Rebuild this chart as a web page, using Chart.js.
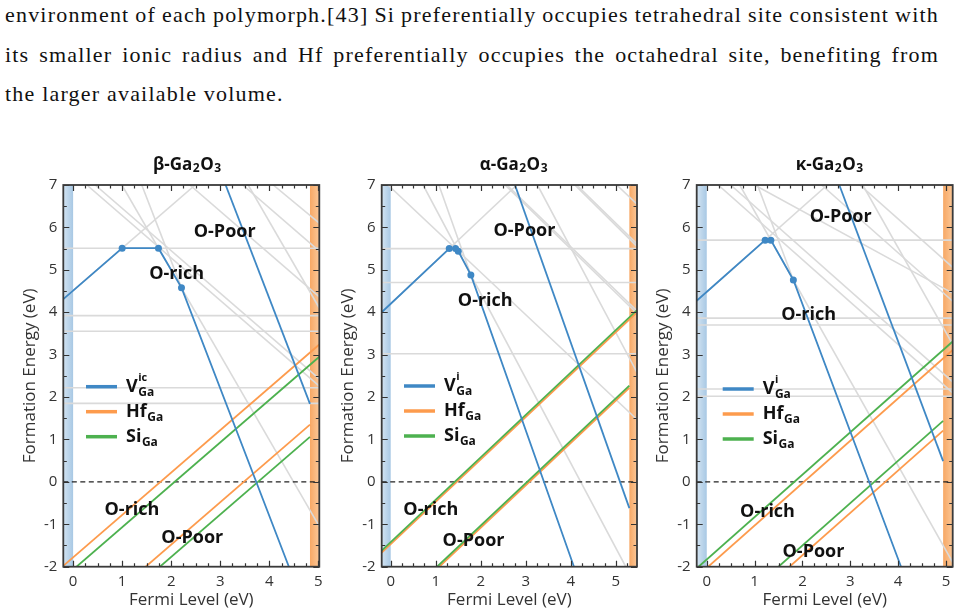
<!DOCTYPE html>
<html><head><meta charset="utf-8">
<script src="https://cdn.jsdelivr.net/npm/chart.js@4.4.1/dist/chart.umd.min.js"></script>
<style>
html,body{margin:0;padding:0;background:#fff;width:960px;height:615px;overflow:hidden;position:relative}
.para{position:absolute;left:5px;width:934px;top:-5px;font-family:"Liberation Serif","DejaVu Serif",serif;font-size:22px;letter-spacing:1.2px;line-height:39.5px;color:#111}
.para span{white-space:nowrap;display:inline-block}
canvas{position:absolute;top:140px}
</style></head><body>
<div class="para"><span class="j">environment of each polymorph.[43] Si preferentially occupies tetrahedral site consistent with</span><br><span class="j">its smaller ionic radius and Hf preferentially occupies the octahedral site, benefiting from</span><br><span>the larger available volume.</span></div>
<canvas id="c1" width="330" height="475" style="left:0px"></canvas>
<canvas id="c2" width="320" height="475" style="left:330px"></canvas>
<canvas id="c3" width="315" height="475" style="left:645px"></canvas>
<script>
// justify the first two text lines to the full width
document.querySelectorAll('.para .j').forEach(s => {
  const gaps = s.textContent.split(' ').length - 1;
  const extra = (934 - s.getBoundingClientRect().width) / gaps;
  s.style.wordSpacing = extra + 'px';
});

// ---------- data ----------
const xTickValues = [0,1,2,3,4,5];
const yTickValues = [-2,-1,0,1,2,3,4,5,6,7];

// beta-Ga2O3
const betaVRich = [[-0.2,4.31],[1.0,5.51],[1.74,5.51],[2.21,4.58],[4.40,-2]];
const betaVPoor = [[3.11,7],[4.83,1.84]];
const betaHfRich = [[-0.2,-1.98],[5.02,3.24]];
const betaHfPoor = [[1.48,-2],[4.83,1.35]];
const betaSiRich = [[0.07,-2],[5.02,2.95]];
const betaSiPoor = [[1.77,-2],[4.83,1.06]];
const betaGray = [[-0.2,4.31,2.49,7],[0.995,7,5.02,-1.05],[1.40,7,2.21,4.58],[3.57,7,5.02,4.10],
  [0.28,7,5.02,2.26],[0.45,7,5.02,2.43],[2.38,7,5.02,4.36],[3.46,7,5.02,5.44],[4.08,7,5.02,6.1]];
const betaGrayLevels = [5.51,3.92,3.55,2.22,1.85];
const betaLabels = [[3.09,5.90,'O-Poor'],[2.11,4.90,'O-rich'],[1.20,-0.65,'O-rich'],[2.43,-1.32,'O-Poor']];

// alpha-Ga2O3
const alphaVRich = [[-0.2,4.0],[1.30,5.5],[1.44,5.5],[1.50,5.44],[1.78,4.88],[4.07,-2]];
const alphaVPoor = [[2.76,7],[5.30,-0.62]];
const alphaHfRich = [[-0.2,-1.67],[5.47,4.0]];
const alphaHfPoor = [[1.08,-2],[5.30,2.22]];
const alphaSiRich = [[-0.2,-1.62],[5.47,4.05]];
const alphaSiPoor = [[1.03,-2],[5.30,2.27]];
const alphaGray = [[-0.2,4.0,2.8,7],[-0.06,7,5.47,1.47],[0.72,7,5.22,-2],[1.07,7,1.78,4.88],
  [3.26,7,5.47,2.58],[5.02,7,5.47,6.55],[2.54,7,5.47,3.97],[2.58,7,5.47,4.03],[4.09,7,5.47,5.55],[4.13,7,5.47,5.61]];
const alphaGrayLevels = [5.5,4.7,3.02];
const alphaLabels = [[2.97,5.92,'O-Poor'],[2.10,4.26,'O-rich'],[0.89,-0.65,'O-rich'],[1.84,-1.39,'O-Poor']];

// kappa-Ga2O3
const kappaVRich = [[-0.21,4.27],[1.22,5.70],[1.34,5.70],[1.81,4.76],[4.06,-2]];
const kappaVPoor = [[2.77,7],[4.94,0.49]];
const kappaHfRich = [[0.03,-2],[5.14,3.11]];
const kappaHfPoor = [[1.73,-2],[4.94,1.21]];
const kappaSiRich = [[-0.17,-2],[5.14,3.31]];
const kappaSiPoor = [[1.50,-2],[4.94,1.44]];
const kappaGray = [[-0.21,4.27,2.52,7],[0.69,7,5.14,-1.9],[1.06,7,1.81,4.76],[3.26,7,5.14,3.24],
  [0.24,7,5.14,2.1],[0.5,7,5.14,2.36],[2.4,7,5.14,4.26],[3.2,7,5.14,5.06],[1.0,7,5.14,4.45]];
const kappaGrayLevels = [5.70,3.86,3.70,2.19,2.02];
const kappaLabels = [[2.80,6.24,'O-Poor'],[2.13,3.94,'O-rich'],[1.27,-0.70,'O-rich'],[2.23,-1.66,'O-Poor']];

// ---------- style ----------
const FONT = '"Open Sans","Noto Sans",sans-serif';
const BLUE = '#3f88c5', ORANGE = '#fd9b4d', GREEN = '#4db14f', GRAY = '#dadada';

const panels = {
  c1:{greek:'β', vSup:'ic', xMin:-0.2, xMax:5.02, gap:4.83, yW:63.3, padR:10.7, yTP:19.8, tDx:-4, lg:[22.7,201.7],
      vRich:betaVRich, vPoor:betaVPoor, hfRich:betaHfRich, hfPoor:betaHfPoor, siRich:betaSiRich, siPoor:betaSiPoor,
      gray:betaGray, levels:betaGrayLevels, labels:betaLabels},
  c2:{greek:'α', vSup:'i', xMin:-0.2, xMax:5.47, gap:5.30, yW:51.7, padR:13, yTP:7.8, tDx:4.5, lg:[22.3,201],
      vRich:alphaVRich, vPoor:alphaVPoor, hfRich:alphaHfRich, hfPoor:alphaHfPoor, siRich:alphaSiRich, siPoor:alphaSiPoor,
      gray:alphaGray, levels:alphaGrayLevels, labels:alphaLabels},
  c3:{greek:'κ', vSup:'i', xMin:-0.21, xMax:5.14, gap:4.94, yW:51.7, padR:7.3, yTP:7.8, tDx:5, lg:[26,204],
      vRich:kappaVRich, vPoor:kappaVPoor, hfRich:kappaHfRich, hfPoor:kappaHfPoor, siRich:kappaSiRich, siPoor:kappaSiPoor,
      gray:kappaGray, levels:kappaGrayLevels, labels:kappaLabels}
};

const pts = arr => arr.map(p => ({x:p[0], y:p[1]}));
function lineDs(data, color, width, order, extra){
  return Object.assign({data, showLine:true, borderColor:color, backgroundColor:color, borderWidth:width,
    pointRadius:0, pointHoverRadius:0, order, tension:0}, extra||{});
}

function richWidth(ctx, parts){
  let w = 0;
  for (const p of parts){
    ctx.font = p.f; let pw = ctx.measureText(p.t).width;
    if (p.sub){ ctx.font = p.subF; let sw = ctx.measureText(p.sub).width; let uw = 0;
      if (p.sup){ ctx.font = p.supF; uw = ctx.measureText(p.sup).width; }
      pw += Math.max(sw, uw) + 1; }
    w += pw;
  }
  return w;
}
function drawRich(ctx, x, y, parts){
  let cx = x;
  ctx.textBaseline = 'middle'; ctx.textAlign = 'left';
  for (const p of parts){
    ctx.font = p.f; ctx.fillText(p.t, cx, y); cx += ctx.measureText(p.t).width;
    if (p.sub){
      ctx.font = p.subF; ctx.fillText(p.sub, cx + 0.5, y + p.subDy); let sw = ctx.measureText(p.sub).width; let uw = 0;
      if (p.sup){ ctx.font = p.supF; ctx.fillText(p.sup, cx + 0.5, y + p.supDy); uw = ctx.measureText(p.sup).width; }
      cx += Math.max(sw, uw) + 1;
    }
  }
}

const decor = {
  id:'decor',
  beforeDatasetsDraw(chart){
    const P = panels[chart.canvas.id];
    const {ctx, chartArea:a, scales:{x}} = chart;
    ctx.save();
    const x0 = x.getPixelForValue(P.xMin), x1 = x.getPixelForValue(0);
    let g = ctx.createLinearGradient(x0,0,x1,0);
    g.addColorStop(0,'#d3e4f2'); g.addColorStop(1,'#a8c8e4');
    ctx.fillStyle = g; ctx.fillRect(x0, a.top, x1-x0, a.bottom-a.top);
    const x2 = x.getPixelForValue(P.gap), x3 = x.getPixelForValue(P.xMax);
    g = ctx.createLinearGradient(x2,0,x3,0);
    g.addColorStop(0,'#f7a865'); g.addColorStop(1,'#fbc797');
    ctx.fillStyle = g; ctx.fillRect(x2, a.top, x3-x2, a.bottom-a.top);
    ctx.restore();
  },
  afterDraw(chart){
    const P = panels[chart.canvas.id];
    const {ctx, chartArea:a, scales:{x, y}} = chart;
    ctx.save();
    ctx.strokeStyle = '#333'; ctx.lineWidth = 1.2;
    ctx.beginPath();
    for (let i = Math.ceil(P.xMin*4); i <= Math.floor(P.xMax*4); i++){
      const v = i/4, px = Math.round(x.getPixelForValue(v)) + 0.5, L = (i % 4 === 0) ? 6 : 3.5;
      ctx.moveTo(px, a.bottom); ctx.lineTo(px, a.bottom - L);
      ctx.moveTo(px, a.top); ctx.lineTo(px, a.top + L);
    }
    for (let i = -4; i <= 14; i++){
      const v = i/2, py = Math.round(y.getPixelForValue(v)) + 0.5, L = (i % 2 === 0) ? 6 : 3.5;
      ctx.moveTo(a.left, py); ctx.lineTo(a.left + L, py);
      ctx.moveTo(a.right, py); ctx.lineTo(a.right - L, py);
    }
    ctx.stroke();
    ctx.lineWidth = 1.8; ctx.strokeStyle = '#3a3a3a';
    ctx.strokeRect(a.left, a.top, a.right - a.left, a.bottom - a.top);
    ctx.fillStyle = '#111'; ctx.font = 'bold 18px ' + FONT; ctx.textAlign = 'center'; ctx.textBaseline = 'middle';
    for (const L of P.labels) ctx.fillText(L[2], x.getPixelForValue(L[0]), y.getPixelForValue(L[1]));
    const tParts = [
      {t:P.greek + '-Ga', f:'bold 17px ' + FONT, sub:'2', subF:'bold 12px ' + FONT, subDy:4},
      {t:'O', f:'bold 17px ' + FONT, sub:'3', subF:'bold 12px ' + FONT, subDy:4}
    ];
    const tw = richWidth(ctx, tParts);
    ctx.fillStyle = '#111';
    drawRich(ctx, (a.left + a.right)/2 + P.tDx - tw/2, 25, tParts);
    const lx = a.left + P.lg[0], ly = a.top + P.lg[1];
    const items = [
      [BLUE, [{t:'V', f:'bold 18px ' + FONT, sub:'Ga', subF:'bold 12px ' + FONT, subDy:6, sup:P.vSup, supF:'bold 11px ' + FONT, supDy:-9}]],
      [ORANGE, [{t:'Hf', f:'bold 18px ' + FONT, sub:'Ga', subF:'bold 12px ' + FONT, subDy:6}]],
      [GREEN, [{t:'Si', f:'bold 18px ' + FONT, sub:'Ga', subF:'bold 12px ' + FONT, subDy:6}]]
    ];
    items.forEach((it, i) => {
      const yy = ly + i*25;
      ctx.strokeStyle = it[0]; ctx.lineWidth = 3.5; ctx.lineCap = 'butt';
      ctx.beginPath(); ctx.moveTo(lx, yy); ctx.lineTo(lx + 31, yy); ctx.stroke();
      ctx.fillStyle = '#111';
      drawRich(ctx, lx + 40, yy, it[1]);
    });
    ctx.restore();
  }
};

function build(id){
  const P = panels[id];
  const ds = [];
  P.gray.forEach(s => ds.push(lineDs([{x:s[0],y:s[1]},{x:s[2],y:s[3]}], GRAY, 1.6, 20)));
  P.levels.forEach(v => ds.push(lineDs([{x:P.xMin,y:v},{x:P.xMax,y:v}], GRAY, 1.6, 20)));
  ds.push(lineDs([{x:P.xMin,y:0},{x:P.xMax,y:0}], '#222', 1.4, 5, {borderDash:[5,3.5]}));
  ds.push(lineDs(pts(P.hfRich), ORANGE, 1.8, 3));
  ds.push(lineDs(pts(P.hfPoor), ORANGE, 1.8, 3));
  ds.push(lineDs(pts(P.siRich), GREEN, 1.8, 2));
  ds.push(lineDs(pts(P.siPoor), GREEN, 1.8, 2));
  ds.push(lineDs(pts(P.vPoor), BLUE, 1.8, 1));
  ds.push(lineDs(pts(P.vRich), BLUE, 1.8, 0, {
    pointRadius: P.vRich.map((p,i) => (i === 0 || i === P.vRich.length-1) ? 0 : 3.5),
    pointBorderWidth:0, pointBackgroundColor:BLUE
  }));
  new Chart(document.getElementById(id), {
    type:'scatter',
    data:{datasets:ds},
    options:{
      responsive:false, animation:false, devicePixelRatio:1, events:[],
      layout:{padding:{left:0, right:P.padR, top:45, bottom:0}},
      plugins:{legend:{display:false}, tooltip:{enabled:false}},
      scales:{
        x:{type:'linear', min:P.xMin, max:P.xMax,
          grid:{display:false, drawTicks:false}, border:{display:false},
          afterBuildTicks:s => { s.ticks = xTickValues.filter(v => v >= P.xMin && v <= P.xMax).map(v => ({value:v})); },
          afterFit:s => { s.height = 48.3; },
          ticks:{font:{family:FONT, size:15}, color:'#333', padding:6, maxRotation:0, autoSkip:false},
          title:{display:true, text:'Fermi Level (eV)', font:{family:FONT, size:17}, color:'#333', padding:{top:0, bottom:5}}
        },
        y:{type:'linear', min:-2, max:7,
          grid:{display:false, drawTicks:false}, border:{display:false},
          afterBuildTicks:s => { s.ticks = yTickValues.map(v => ({value:v})); },
          afterFit:s => { s.width = P.yW; },
          ticks:{font:{family:FONT, size:15}, color:'#333', padding:6, autoSkip:false},
          title:{display:true, text:'Formation Energy (eV)', font:{family:FONT, size:17}, color:'#333', padding:{top:P.yTP, bottom:0}}
        }
      }
    },
    plugins:[decor]
  });
}
['c1','c2','c3'].forEach(build);
</script>
</body></html>
